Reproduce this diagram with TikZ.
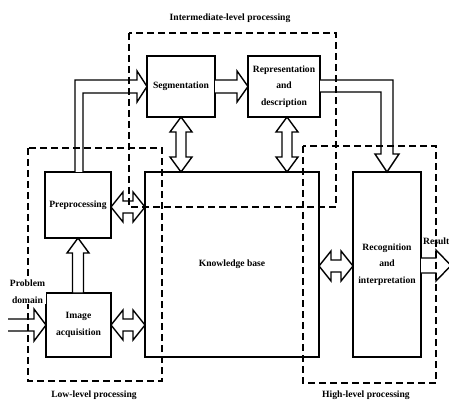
\documentclass[tikz,border=0pt]{standalone}
\usepackage{fontspec}
\setmainfont{Liberation Serif}
\newcommand\dblv[3]{%
  \draw[blk] (#1,#2) -- (#1+11,#2+15) -- (#1+5,#2+15) -- (#1+5,#3-15) -- (#1+11,#3-15) -- (#1,#3)
    -- (#1-11,#3-15) -- (#1-5,#3-15) -- (#1-5,#2+15) -- (#1-11,#2+15) -- cycle;}
\newcommand\dblh[3]{%
  \draw[blk] (#2,#1) -- (#2+12,#1-15) -- (#2+12,#1-6) -- (#3-12,#1-6) -- (#3-12,#1-15) -- (#3,#1)
    -- (#3-12,#1+15) -- (#3-12,#1+6) -- (#2+12,#1+6) -- (#2+12,#1+15) -- cycle;}
\begin{document}
\begin{tikzpicture}[x=1pt,y=-1pt,
  box/.style={draw, line width=1.6pt, inner sep=0pt, align=center,
    font={\fontsize{9.6}{16.5}\selectfont\bfseries}},
  lbl/.style={inner sep=0pt, align=center, font={\fontsize{9.6}{16.5}\selectfont\bfseries}},
  blk/.style={draw, fill=white, line width=1.4pt, line join=miter},
  dsh/.style={draw, line width=1.6pt, dash pattern=on 7pt off 4pt}]
\useasboundingbox (0,0) rectangle (449,403);
\clip (0,0) rectangle (449,403);
\fill[white] (0,0) rectangle (449,403);

% boxes
\node[box, minimum width=68pt, minimum height=61pt] (seg) at (181,86.5) {Segmentation};
\node[box, minimum width=72pt, minimum height=61pt] (rep) at (284,86.5) {Representation\\and\\description};
\node[box, minimum width=66pt, minimum height=66pt] (pre) at (78,205) {Preprocessing};
\node[box, minimum width=65pt, minimum height=64pt] (acq) at (78.5,325) {Image\\acquisition};
\node[box, minimum width=174pt, minimum height=185pt] (kb) at (232,264.5) {Knowledge base};
\node[box, minimum width=68pt, minimum height=185pt] (rec) at (387,264.5) {Recognition\\and\\interpretation};

% labels
\node[lbl] (lint) at (230,18) {Intermediate-level processing};
\node[lbl] (llow) at (94,395) {Low-level processing};
\node[lbl] (lhigh) at (366,395) {High-level processing};
\node[lbl, anchor=west] (lres) at (423,241) {Result};

% block arrows
\dblv{181}{117}{172}
\dblv{287}{117}{172}
\dblh{207}{111}{145}
\dblh{325}{111}{145}
\dblh{266}{319}{353}
% acquisition -> preprocessing
\draw[blk] (78,238) -- (89,253) -- (83.5,253) -- (83.5,293) -- (72.5,293) -- (72.5,253) -- (67,253) -- cycle;
% preprocessing -> segmentation
\draw[blk] (75,172) -- (75,80) -- (137,80) -- (137,71) -- (147,86.5) -- (137,102) -- (137,93) -- (83,93) -- (83,172);
% segmentation -> representation
\draw[blk] (215,80) -- (237,80) -- (237,71) -- (248,86.5) -- (237,102) -- (237,93) -- (215,93);
% representation -> recognition
\draw[blk] (320,80) -- (393,80) -- (393,154) -- (399,154) -- (387,172) -- (375,154) -- (381,154) -- (381,92) -- (320,92);
% problem domain -> acquisition
\draw[blk] (8,319) -- (34,319) -- (34,309) -- (46,325) -- (34,341) -- (34,331) -- (8,331);
% recognition -> result
\draw[blk] (421,258) -- (436,258) -- (436,250) -- (451,265.5) -- (436,281) -- (436,273) -- (421,273);

% processing level frames
\draw[dsh] (129,33) rectangle (336,207);
\draw[dsh] (28,148) rectangle (162,381);
\draw[dsh] (303,146) rectangle (436,383);

\node[lbl, fill=white, inner sep=1pt] (lprob) at (27.5,291.5) {Problem\\domain};
\end{tikzpicture}
\end{document}
